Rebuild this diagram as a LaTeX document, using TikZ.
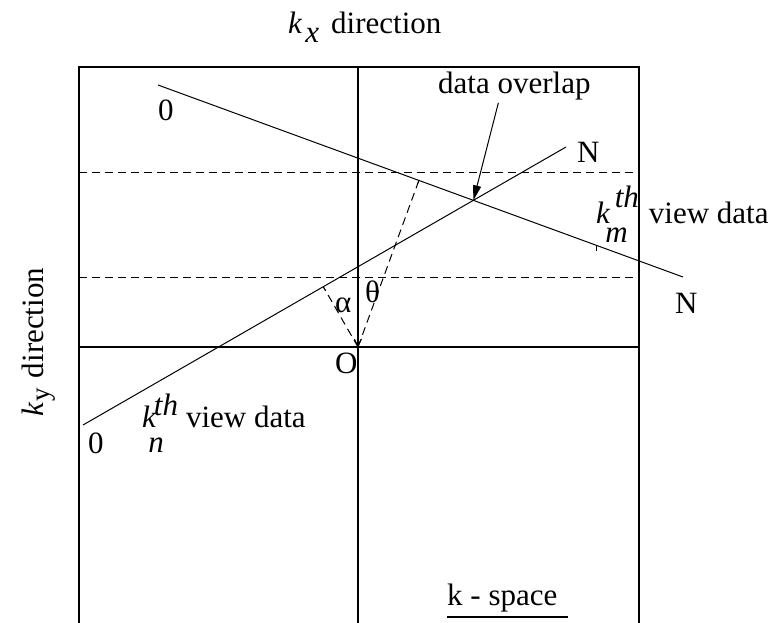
\documentclass[tikz,border=0pt]{standalone}
\usepackage{fontspec}
\setmainfont{Liberation Serif}
\usetikzlibrary{arrows.meta,calc}
\begin{document}
\begin{tikzpicture}[x=1pt,y=-1pt,
  frame/.style={line width=1.3pt, line cap=rect},
  ray/.style={line width=1pt},
  guide/.style={line width=1pt, dash pattern=on 8pt off 5pt},
  tick/.style={line width=0.8pt},
  lbl/.style={inner sep=0pt, anchor=base west, font=\fontsize{31}{37}\selectfont}]
\useasboundingbox (0,0) rectangle (774,622);
% frame
\coordinate (TL) at (79,67);
\coordinate (TR) at (639,67);
\coordinate (BL) at (79,622);
\coordinate (BR) at (639,622);
\coordinate (TM) at (358,67);
\coordinate (BM) at (358,622);
\coordinate (ML) at (79,347);
\coordinate (MR) at (639,347);
\coordinate (O) at (358,347);
\draw[frame] (BL) -- (TL) -- (TR) -- (BR);
\draw[frame] (TM) -- (BM);
\draw[frame] (ML) -- (MR);
% dashed horizontals
\coordinate (D1L) at (79,172);
\coordinate (D1R) at (639,172);
\coordinate (D2L) at (79,277);
\coordinate (D2R) at (639,277);
\draw[guide] (D1L) -- (D1R);
\draw[guide] (D2L) -- (D2R);
% view lines
\coordinate (a0) at (158,85);
\coordinate (aN) at (683,277);
\coordinate (b0) at (83,425);
\coordinate (bN) at (566,147);
\draw[ray] (a0) -- (aN);
\draw[ray] (b0) -- (bN);
\coordinate (X) at (intersection of a0--aN and b0--bN);
% perpendicular feet
\coordinate (F1) at ($(a0)!(O)!(aN)$);
\coordinate (F2) at ($(b0)!(O)!(bN)$);
\draw[guide] (O) -- (F1);
\draw[guide] (O) -- (F2);
\draw[tick] (F1) -- ($(F1)!5pt!(O)$);
\draw[tick] (F2) -- ($(F2)!5pt!(O)$);
\coordinate (T3) at ($(a0)!0.835!(aN)$);
\draw[tick] (T3) -- ++(0,6);
% small arrow at O
\coordinate (Oa) at (358,333);
\draw[line width=0.8pt, -{Straight Barb[length=7pt,width=7pt]}] (Oa) -- (O);
% labels
\node[lbl] (kx) at (288,33) {\textit{k}\kern3pt\raisebox{-9pt}{\textit{x}}\kern12pt direction};
\node[lbl, rotate=90] (ky) at (43,417) {\textit{k}\kern1pt\raisebox{-6pt}{\fontsize{27}{27}\selectfont y}\kern10pt direction};
\node[lbl] (zeroa) at (158,120) {0};
\node[lbl] (overlap) at (438,93) {data overlap};
\node[lbl] (Na) at (577,162) {N};
\node[lbl] (Nb) at (675,313) {N};
\node[lbl] (km) at (596,223) {\textit{k}\kern-5pt\raisebox{-19pt}{\textit{m}}\kern-13pt\raisebox{16pt}{\textit{th}}\kern10pt view data};
\node[lbl] (kn) at (142,427) {\textit{k}\kern-8pt\raisebox{-25pt}{\textit{n}}\kern-10pt\raisebox{12pt}{\textit{th}}\kern8pt view data};
\node[lbl] (alpha) at (335,312) {α};
\node[lbl] (theta) at (365,302) {θ};
\node[lbl] (Olbl) at (335,373) {O};
\node[lbl] (zerob) at (88,453) {0};
\node[lbl] (ks) at (447,605) {k - space};
\draw[line width=1.2pt] ([yshift=-12pt]ks.base west) -- ++(121,0);
% data overlap arrow
\draw[ray, -{Triangle[length=15pt,width=8pt]}] ([xshift=-16pt,yshift=-3pt]overlap.south) -- (X);
\end{tikzpicture}
\end{document}
